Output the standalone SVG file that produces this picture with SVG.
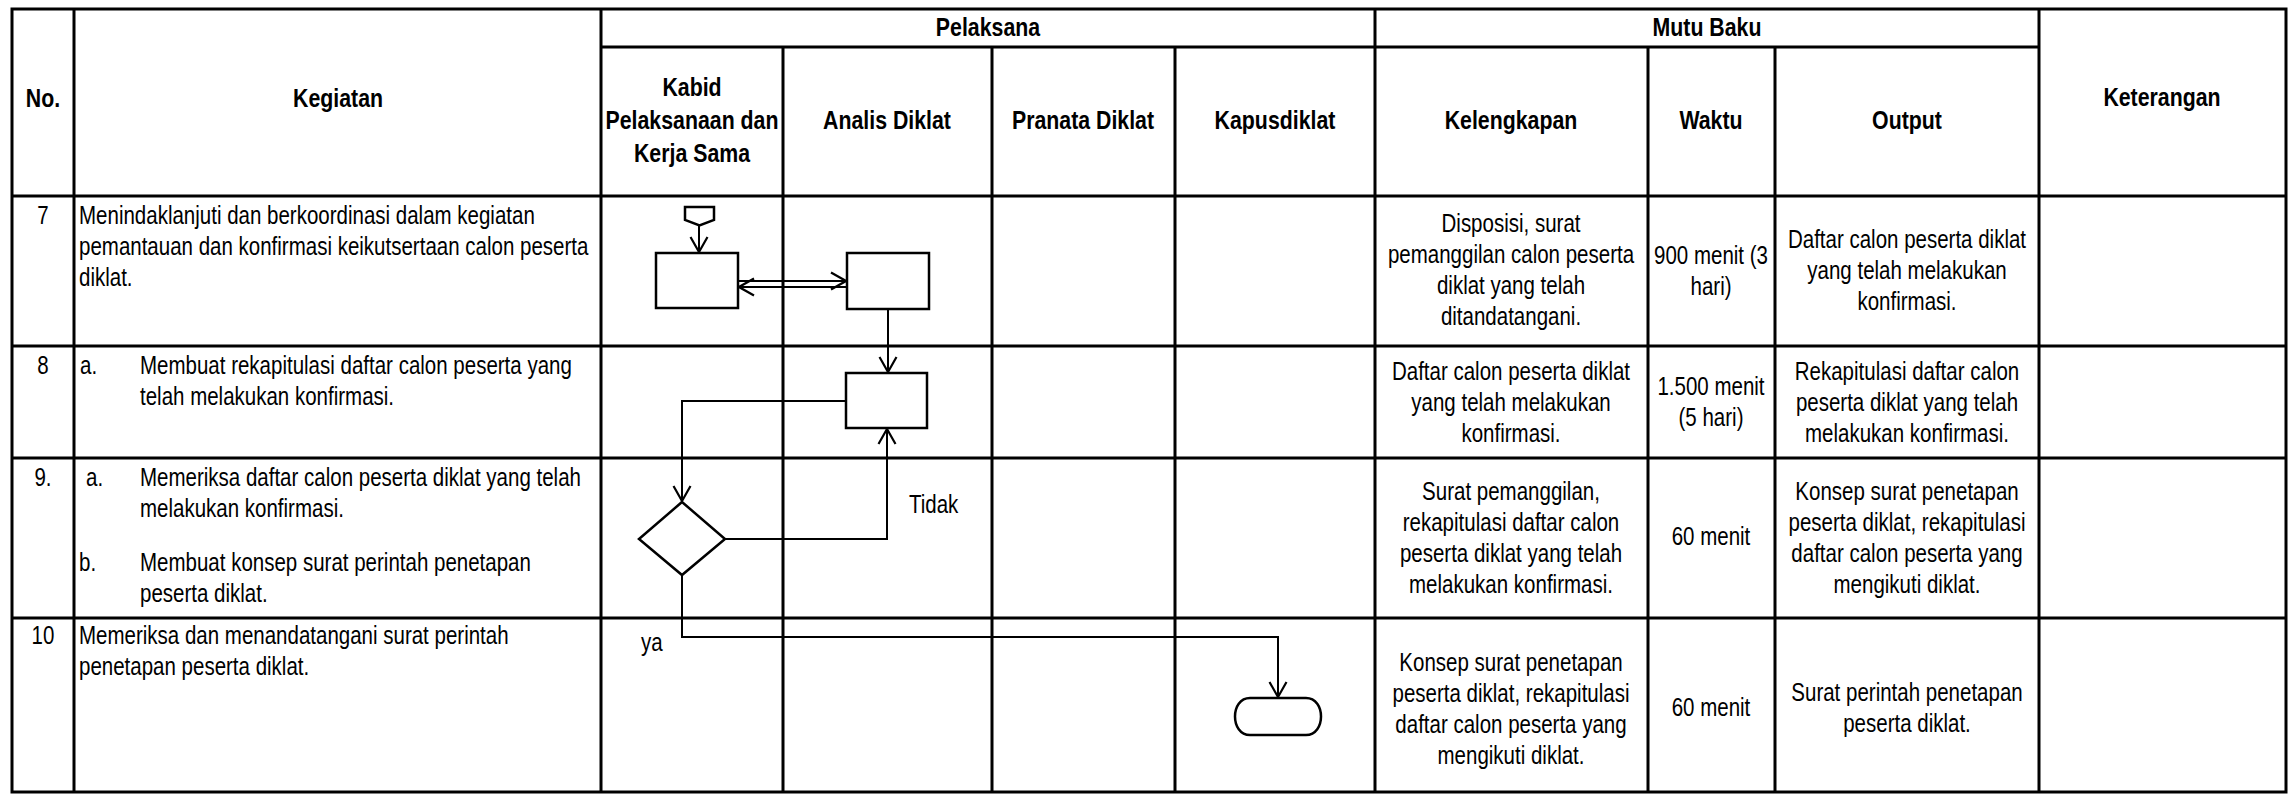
<svg xmlns="http://www.w3.org/2000/svg" width="2292" height="795" viewBox="0 0 2292 795">
<style>
.g{stroke:#000;stroke-width:3;fill:none}
.s{stroke:#000;stroke-width:2.5;fill:#fff}
.c{stroke:#000;stroke-width:2;fill:none}
text{font-family:"Liberation Sans",Arial,sans-serif;font-size:25px;fill:#000}
.h{font-weight:bold;font-size:26px}
.m{text-anchor:middle}
</style>
<defs>
<marker id="a" markerUnits="userSpaceOnUse" markerWidth="18" markerHeight="20" viewBox="0 0 18 20" refX="16" refY="10" orient="auto"><path d="M1,1.5 L16,10 L1,18.5" fill="none" stroke="#000" stroke-width="2.2"/></marker>
</defs>
<rect width="2292" height="795" fill="#fff"/>
<g id="grid" class="g">
<rect x="12" y="9" width="2274" height="783"/>
<path d="M601,47H2039M12,196H2286M12,346H2286M12,458H2286M12,618H2286"/>
<path d="M74,9V792M601,9V792M1375,9V792M2039,9V792M783,47V792M992,47V792M1175,47V792M1648,47V792M1775,47V792"/>
</g>
<g id="header">
<text class="h m" transform="translate(43,107) scale(.82,1)">No.</text>
<text class="h m" transform="translate(338,107) scale(.82,1)">Kegiatan</text>
<text class="h m" transform="translate(988,36) scale(.82,1)">Pelaksana</text>
<text class="h m" transform="translate(1707,36) scale(.82,1)">Mutu Baku</text>
<text class="h m" transform="translate(2162,106) scale(.82,1)">Keterangan</text>
<text class="h m" transform="translate(692,96) scale(.82,1)"><tspan x="0">Kabid</tspan><tspan x="0" dy="33">Pelaksanaan dan</tspan><tspan x="0" dy="33">Kerja Sama</tspan></text>
<text class="h m" transform="translate(887,129) scale(.82,1)">Analis Diklat</text>
<text class="h m" transform="translate(1083,129) scale(.82,1)">Pranata Diklat</text>
<text class="h m" transform="translate(1275,129) scale(.82,1)">Kapusdiklat</text>
<text class="h m" transform="translate(1511,129) scale(.82,1)">Kelengkapan</text>
<text class="h m" transform="translate(1711,129) scale(.82,1)">Waktu</text>
<text class="h m" transform="translate(1907,129) scale(.82,1)">Output</text>
</g>
<g id="row7">
<text class="m" transform="translate(43,224) scale(.82,1)">7</text>
<text transform="translate(79,224) scale(.82,1)"><tspan x="0">Menindaklanjuti dan berkoordinasi dalam kegiatan</tspan><tspan x="0" dy="31">pemantauan dan konfirmasi keikutsertaan calon peserta</tspan><tspan x="0" dy="31">diklat.</tspan></text>
<text class="m" transform="translate(1511,232) scale(.82,1)"><tspan x="0">Disposisi, surat</tspan><tspan x="0" dy="31">pemanggilan calon peserta</tspan><tspan x="0" dy="31">diklat yang telah</tspan><tspan x="0" dy="31">ditandatangani.</tspan></text>
<text class="m" transform="translate(1711,264) scale(.82,1)"><tspan x="0">900 menit (3</tspan><tspan x="0" dy="31">hari)</tspan></text>
<text class="m" transform="translate(1907,248) scale(.82,1)"><tspan x="0">Daftar calon peserta diklat</tspan><tspan x="0" dy="31">yang telah melakukan</tspan><tspan x="0" dy="31">konfirmasi.</tspan></text>
</g>
<g id="row8">
<text class="m" transform="translate(43,374) scale(.82,1)">8</text>
<text transform="translate(80,374) scale(.82,1)">a.</text>
<text transform="translate(140,374) scale(.82,1)"><tspan x="0">Membuat rekapitulasi daftar calon peserta yang</tspan><tspan x="0" dy="31">telah melakukan konfirmasi.</tspan></text>
<text class="m" transform="translate(1511,380) scale(.82,1)"><tspan x="0">Daftar calon peserta diklat</tspan><tspan x="0" dy="31">yang telah melakukan</tspan><tspan x="0" dy="31">konfirmasi.</tspan></text>
<text class="m" transform="translate(1711,395) scale(.82,1)"><tspan x="0">1.500 menit</tspan><tspan x="0" dy="31">(5 hari)</tspan></text>
<text class="m" transform="translate(1907,380) scale(.82,1)"><tspan x="0">Rekapitulasi daftar calon</tspan><tspan x="0" dy="31">peserta diklat yang telah</tspan><tspan x="0" dy="31">melakukan konfirmasi.</tspan></text>
</g>
<g id="row9">
<text class="m" transform="translate(43,486) scale(.82,1)">9.</text>
<text transform="translate(86,486) scale(.82,1)">a.</text>
<text transform="translate(140,486) scale(.82,1)"><tspan x="0">Memeriksa daftar calon peserta diklat yang telah</tspan><tspan x="0" dy="31">melakukan konfirmasi.</tspan></text>
<text transform="translate(79,571) scale(.82,1)">b.</text>
<text transform="translate(140,571) scale(.82,1)"><tspan x="0">Membuat konsep surat perintah penetapan</tspan><tspan x="0" dy="31">peserta diklat.</tspan></text>
<text class="m" transform="translate(1511,500) scale(.82,1)"><tspan x="0">Surat pemanggilan,</tspan><tspan x="0" dy="31">rekapitulasi daftar calon</tspan><tspan x="0" dy="31">peserta diklat yang telah</tspan><tspan x="0" dy="31">melakukan konfirmasi.</tspan></text>
<text class="m" transform="translate(1711,545) scale(.82,1)">60 menit</text>
<text class="m" transform="translate(1907,500) scale(.82,1)"><tspan x="0">Konsep surat penetapan</tspan><tspan x="0" dy="31">peserta diklat, rekapitulasi</tspan><tspan x="0" dy="31">daftar calon peserta yang</tspan><tspan x="0" dy="31">mengikuti diklat.</tspan></text>
</g>
<g id="row10">
<text class="m" transform="translate(43,644) scale(.82,1)">10</text>
<text transform="translate(79,644) scale(.82,1)"><tspan x="0">Memeriksa dan menandatangani surat perintah</tspan><tspan x="0" dy="31">penetapan peserta diklat.</tspan></text>
<text class="m" transform="translate(1511,671) scale(.82,1)"><tspan x="0">Konsep surat penetapan</tspan><tspan x="0" dy="31">peserta diklat, rekapitulasi</tspan><tspan x="0" dy="31">daftar calon peserta yang</tspan><tspan x="0" dy="31">mengikuti diklat.</tspan></text>
<text class="m" transform="translate(1711,716) scale(.82,1)">60 menit</text>
<text class="m" transform="translate(1907,701) scale(.82,1)"><tspan x="0">Surat perintah penetapan</tspan><tspan x="0" dy="31">peserta diklat.</tspan></text>
</g>
<g id="connectors" class="c">
<path d="M699,225V252" marker-end="url(#a)"/>
<path d="M738,281H846" marker-end="url(#a)"/>
<path d="M847,287H739" marker-end="url(#a)"/>
<path d="M888,309V372" marker-end="url(#a)"/>
<path d="M846,401H682V501" marker-end="url(#a)"/>
<path d="M725,539H887V429" marker-end="url(#a)"/>
<path d="M682,575V637H1278V697" marker-end="url(#a)"/>
</g>
<g id="offpage"><path class="s" d="M685,207H714V220L699.5,225.5L685,220Z"/></g>
<g id="box1"><rect class="s" x="656" y="253" width="82" height="55"/></g>
<g id="box2"><rect class="s" x="847" y="253" width="82" height="56"/></g>
<g id="box3"><rect class="s" x="846" y="373" width="81" height="55"/></g>
<g id="decision"><path class="s" d="M682,502L725,539L682,575L639,539Z"/></g>
<g id="terminator"><path class="s" d="M1250,698H1306C1326,698 1326,735 1306,735H1250C1230,735 1230,698 1250,698Z"/></g>
<g id="labels">
<text transform="translate(909,513) scale(.82,1)">Tidak</text>
<text transform="translate(641,651) scale(.82,1)">ya</text>
</g>
</svg>
